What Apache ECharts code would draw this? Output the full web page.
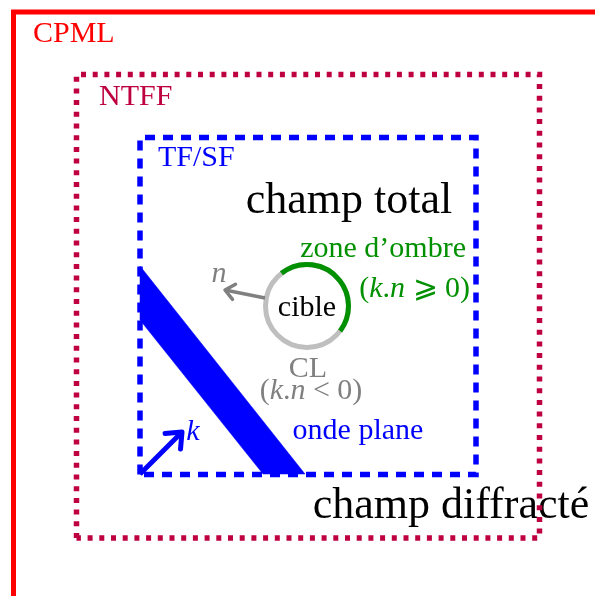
<!DOCTYPE html>
<html><head><meta charset="utf-8">
<script src="https://cdn.jsdelivr.net/npm/echarts@6/dist/echarts.min.js"></script>
<style>html,body{margin:0;padding:0;background:#fff}#c{width:595px;height:596px}</style>
</head><body><div id="c"></div>
<script>
// ---- diagram data (coordinates in picture units, y downward) ----
const cpmlBorder = [[13.5, 596], [13.5, 12], [595, 12]];
const ntffBox = [[76.5, 538], [76.5, 74.5], [539.5, 74.5], [539.5, 538], [76.5, 538]];
const tfsfBox = [[140, 474.5], [140, 137.5], [476, 137.5], [476, 474.5], [140, 474.5]];
const planeWave = [[140, 266], [305, 474], [263, 474], [140, 320]];
const kVector = [[140, 474], [182, 432]];
const nVector = [[265, 298], [225, 290]];
const targetCenter = [307, 306];
const targetRadius = 41.5;
const shadowArcDeg = [-37, 128];
const labelTexts = [
  'CPML', 'NTFF', 'TF/SF', 'champ total',
  'zone d’ombre', '({i|k}.{i|n} ⩾ 0)',
  'cible', 'CL', '({i|k}.{i|n} < 0)',
  'n', 'k', 'onde plane', 'champ diffracté'
];
const labelAnchors = [
  [33, 43], [99, 106], [158, 167], [349, 215],
  [466, 258], [470, 298],
  [307, 317], [308, 378], [311, 400],
  [219, 283], [193, 441], [358, 440], [451, 520]
];

// ---- styles ----
const SERIF = '"Liberation Serif", "DejaVu Serif", serif';
const C = { red: '#ff0000', purple: '#bf0040', blue: '#0000ff', green: '#009000', gray: '#808080', light: '#bfbfbf', black: '#000000' };
const S = 30, L = 44;
const labelStyles = [
  { c: C.red, s: S, a: 'left' }, { c: C.purple, s: S, a: 'left' }, { c: C.blue, s: S, a: 'left' }, { c: C.black, s: L, a: 'center' },
  { c: C.green, s: S, a: 'right' }, { c: C.green, s: S, a: 'right' },
  { c: C.black, s: S, a: 'center' }, { c: C.gray, s: S, a: 'center' }, { c: C.gray, s: S, a: 'center' },
  { c: C.gray, s: S, a: 'center', it: true }, { c: C.blue, s: S, a: 'center', it: true },
  { c: C.blue, s: S, a: 'center' }, { c: C.black, s: L, a: 'center' }
];

const chart = echarts.init(document.getElementById('c'), null, { renderer: 'canvas' });

function lineSeries(data, color, width, type, z) {
  return {
    type: 'line', data: data, symbol: 'none', z: z, silent: true, animation: false,
    lineStyle: { color: color, width: width, type: type, cap: 'butt', join: 'miter' }
  };
}

function arrowHead(api, pts, len, angDeg) {
  const a = api.coord(pts[0]), b = api.coord(pts[1]);
  const ang = Math.atan2(a[1] - b[1], a[0] - b[0]);
  const r = angDeg * Math.PI / 180;
  return [
    [b[0] + len * Math.cos(ang + r), b[1] + len * Math.sin(ang + r)],
    [b[0], b[1]],
    [b[0] + len * Math.cos(ang - r), b[1] + len * Math.sin(ang - r)]
  ];
}

const option = {
  animation: false,
  backgroundColor: '#ffffff',
  grid: { left: 0, right: 0, top: 0, bottom: 0 },
  xAxis: { type: 'value', min: 0, max: 595, show: false },
  yAxis: { type: 'value', min: 0, max: 596, inverse: true, show: false },
  series: [
    // labels
    {
      type: 'custom', z: 1, silent: true, animation: false, clip: false,
      data: labelAnchors.map((p, i) => [p[0], p[1], i]),
      renderItem: function (params, api) {
        const i = params.dataIndex;
        const st = labelStyles[i];
        const p = api.coord([api.value(0), api.value(1)]);
        const font = (st.it ? 'italic ' : '') + st.s + 'px ' + SERIF;
        return {
          type: 'text', x: p[0], y: p[1] - 0.31 * st.s,
          style: {
            text: labelTexts[i], fill: st.c, font: font,
            align: st.a, verticalAlign: 'middle', textAlign: st.a, textVerticalAlign: 'middle',
            rich: { i: { fontStyle: 'italic', fontSize: st.s, fontFamily: SERIF, color: st.c, fill: st.c } }
          }
        };
      }
    },
    lineSeries(cpmlBorder, C.red, 5, 'solid', 3),
    lineSeries(ntffBox, C.purple, 5.5, [5, 6.7], 3),
    lineSeries(tfsfBox, C.blue, 5.5, [10, 8], 3),
    // plane wave band, target ring and vectors
    {
      type: 'custom', z: 4, silent: true, animation: false, clip: false,
      data: [[0, 0]],
      renderItem: function (params, api) {
        const band = planeWave.map(p => api.coord(p));
        const c = api.coord(targetCenter);
        const r = api.size([targetRadius, targetRadius])[0];
        const d2r = Math.PI / 180;
        return {
          type: 'group',
          children: [
            { type: 'polygon', shape: { points: band }, style: { fill: C.blue, stroke: C.blue, lineWidth: 0.5 } },
            { type: 'circle', shape: { cx: c[0], cy: c[1], r: r }, style: { fill: 'none', stroke: C.light, lineWidth: 5 } },
            { type: 'arc', shape: { cx: c[0], cy: c[1], r: r, startAngle: -shadowArcDeg[1] * d2r, endAngle: -shadowArcDeg[0] * d2r, clockwise: true },
              style: { fill: 'none', stroke: C.green, lineWidth: 5 } },
            { type: 'polyline', shape: { points: nVector.map(p => api.coord(p)) }, style: { stroke: C.gray, lineWidth: 3.5, fill: 'none' } },
            { type: 'polyline', shape: { points: arrowHead(api, nVector, 12, 40) }, style: { stroke: C.gray, lineWidth: 3.5, fill: 'none', lineCap: 'round', lineJoin: 'round' } },
            { type: 'polyline', shape: { points: kVector.map(p => api.coord(p)) }, style: { stroke: C.blue, lineWidth: 5, fill: 'none' } },
            { type: 'polyline', shape: { points: arrowHead(api, kVector, 17, 40) }, style: { stroke: C.blue, lineWidth: 5, fill: 'none', lineCap: 'round', lineJoin: 'round' } }
          ]
        };
      }
    }
  ]
};
chart.setOption(option);
</script>
</body></html>
